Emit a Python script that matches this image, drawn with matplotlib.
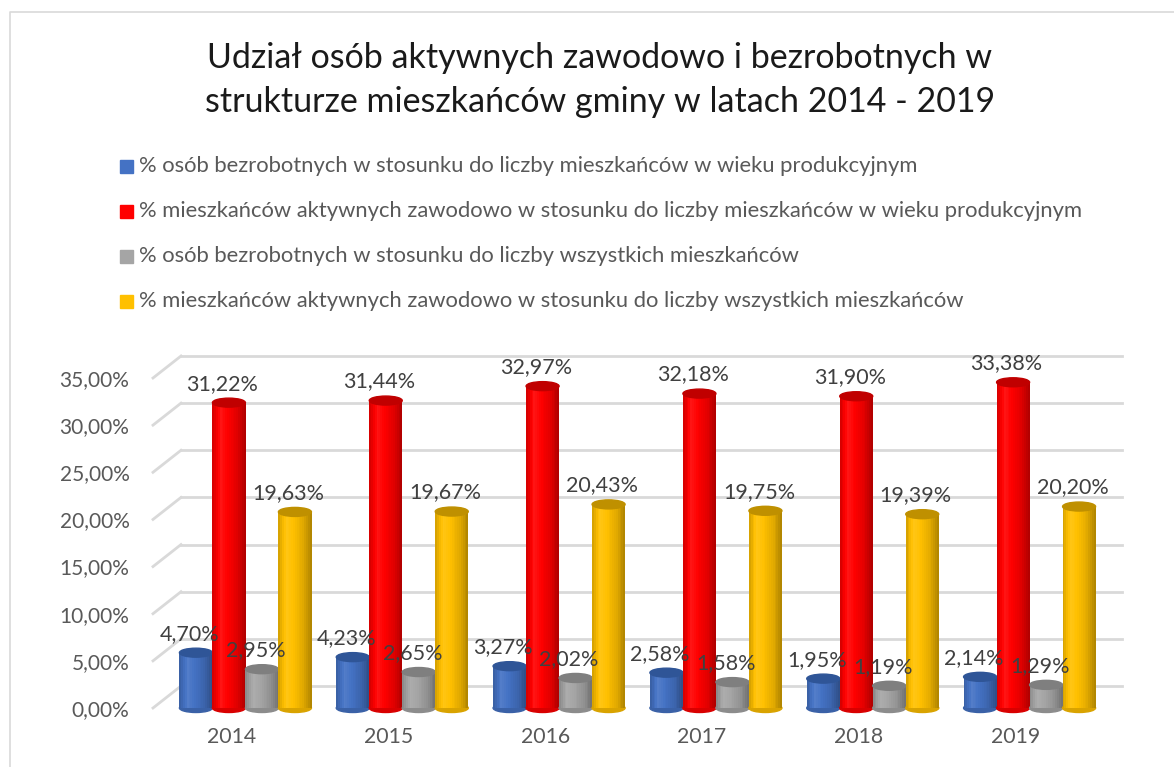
#!/usr/bin/env python3
# -*- coding: utf-8 -*-
#
# plot.py: Udzial osob aktywnych zawodowo i bezrobotnych, wykres 3D (walce)

import numpy as np
import matplotlib.pyplot as plt
from matplotlib.patches import Rectangle, Ellipse
from matplotlib.lines import Line2D
from matplotlib.colors import to_rgb


YEARS = ["2014", "2015", "2016", "2017", "2018", "2019"]

UNEMPLOYED_WORKING_AGE = [4.70, 4.23, 3.27, 2.58, 1.95, 2.14]
ACTIVE_WORKING_AGE = [31.22, 31.44, 32.97, 32.18, 31.90, 33.38]
UNEMPLOYED_ALL = [2.95, 2.65, 2.02, 1.58, 1.19, 1.29]
ACTIVE_ALL = [19.63, 19.67, 20.43, 19.75, 19.39, 20.20]

SERIES_LABELS = [
    "% osób bezrobotnych w stosunku do liczby mieszkańców w wieku produkcyjnym",
    "% mieszkańców aktywnych zawodowo w stosunku do liczby mieszkańców w wieku produkcyjnym",
    "% osób bezrobotnych w stosunku do liczby wszystkich mieszkańców",
    "% mieszkańców aktywnych zawodowo w stosunku do liczby wszystkich mieszkańców",
]

Y_TICKS = [0, 5, 10, 15, 20, 25, 30, 35]

TITLE = [
    "Udział osób aktywnych zawodowo i bezrobotnych w",
    "strukturze mieszkańców gminy w latach 2014 - 2019",
]

# base colour, colour of the top face
COLOURS = [
    ("#4472C4", "#2F5597"),
    ("#FF0000", "#C00000"),
    ("#A5A5A5", "#7F7F7F"),
    ("#FFC000", "#BF9000"),
]

W, H = 1174, 767
FONT = "Lato"

# axes geometry in pixels
AX_LEFT, AX_WIDTH = 153, 941
AX_BOTTOM, AX_HEIGHT = 708, 330
PX_X = 6 / AX_WIDTH  # data units per pixel
PX_Y = 35 / AX_HEIGHT
DEPTH_X, DEPTH_Y = 28 * PX_X, 22 * PX_Y  # back wall offset


def fx(px):
    return px / W


def fy(py):
    return 1 - py / H


def shade(colour, f):
    """Darken (f < 1) or lighten (f > 1) a colour"""
    c = np.array(to_rgb(colour))
    if f < 1:
        return tuple(c * f)
    return tuple(c + (1 - c) * (f - 1))


def drawCylinder(ax, x0, width, value, colour, top_colour):
    """Draws one cylinder, x0 being the left edge in data coords"""
    n = 18
    profile_t = [0.0, 0.25, 0.45, 0.75, 1.0]
    profile_f = [0.82, 1.08, 1.0, 0.88, 0.68]
    step = width / n
    ell_h = 9 * PX_Y

    # bottom half of the cylinder
    ax.add_patch(Ellipse((x0 + width / 2, 0), width, ell_h,
                         color=shade(colour, 0.85), clip_on=False, zorder=3))

    for k in range(n):
        f = np.interp((k + 0.5) / n, profile_t, profile_f)
        ax.add_patch(Rectangle((x0 + k * step, 0), step * 1.05, value,
                               color=shade(colour, f), lw=0,
                               clip_on=False, zorder=3))

    ax.add_patch(Ellipse((x0 + width / 2, value), width, ell_h,
                         color=top_colour, clip_on=False, zorder=3))


def plotChart():
    fig = plt.figure(figsize=(W / 100, H / 100), dpi=100)

    # chart border
    fig.add_artist(Line2D([fx(10), fx(10), fx(W)], [0, fy(12), fy(12)],
                          color="#D9D9D9", lw=1.2))

    for i, line in enumerate(TITLE):
        fig.text(0.511, fy(58 + 44 * i), line, ha="center", va="center",
                 fontsize=24.5, family=FONT, color="#1A1A1A")

    # legend, drawn by hand
    for i, label in enumerate(SERIES_LABELS):
        y = 166 + 45 * i
        fig.add_artist(Rectangle((fx(120), fy(y + 6.5)), fx(13), 13 / H,
                                 color=COLOURS[i][0],
                                 transform=fig.transFigure))
        fig.text(fx(139), fy(y), label, ha="left", va="center",
                 fontsize=15.8, family=FONT, color="#595959")

    ax = fig.add_axes([fx(AX_LEFT), fy(AX_BOTTOM),
                       AX_WIDTH / W, AX_HEIGHT / H])
    ax.set_xlim(-0.5, 5.5)
    ax.set_ylim(0, 35)
    for spine in ax.spines.values():
        spine.set_visible(False)

    # back wall and side wall grid lines
    for v in Y_TICKS:
        ax.plot([-0.5 + DEPTH_X, 5.5 + DEPTH_X], [v + DEPTH_Y, v + DEPTH_Y],
                color="#D9D9D9", lw=2, clip_on=False, zorder=1)
        ax.plot([-0.5, -0.5 + DEPTH_X], [v, v + DEPTH_Y],
                color="#D9D9D9", lw=2, clip_on=False, zorder=1)

    series = [UNEMPLOYED_WORKING_AGE, ACTIVE_WORKING_AGE,
              UNEMPLOYED_ALL, ACTIVE_ALL]
    bar_w = 33 * PX_X
    x = np.arange(len(YEARS))

    for j in range(len(YEARS)):
        for i, values in enumerate(series):
            xc = x[j] + (i - 1.5) * bar_w  # centre in front plane
            drawCylinder(ax, xc - bar_w / 2 + DEPTH_X / 2, bar_w,
                         values[j] + DEPTH_Y / 2, *COLOURS[i])

        for i, values in enumerate(series):
            xc = x[j] + (i - 1.5) * bar_w
            ax.text(xc + 7.5 * PX_X, values[j] + 30 * PX_Y,
                    "{:.2f}%".format(values[j]).replace(".", ","),
                    ha="center", va="center", fontsize=15.5, family=FONT,
                    color="#404040", zorder=5, clip_on=False)

    ax.set_yticks(Y_TICKS,
                  labels=["{:.2f}%".format(v).replace(".", ",")
                          for v in Y_TICKS])
    ax.set_xticks(x, labels=YEARS)
    ax.tick_params(length=0, labelsize=15, labelcolor="#595959")
    ax.tick_params(axis="x", labelsize=15.3)
    ax.tick_params(axis="y", pad=17)
    ax.tick_params(axis="x", pad=14)
    for lab in ax.get_xticklabels() + ax.get_yticklabels():
        lab.set_family(FONT)

    fig.savefig("out.png", dpi=100)


if __name__ == "__main__":
    plotChart()
